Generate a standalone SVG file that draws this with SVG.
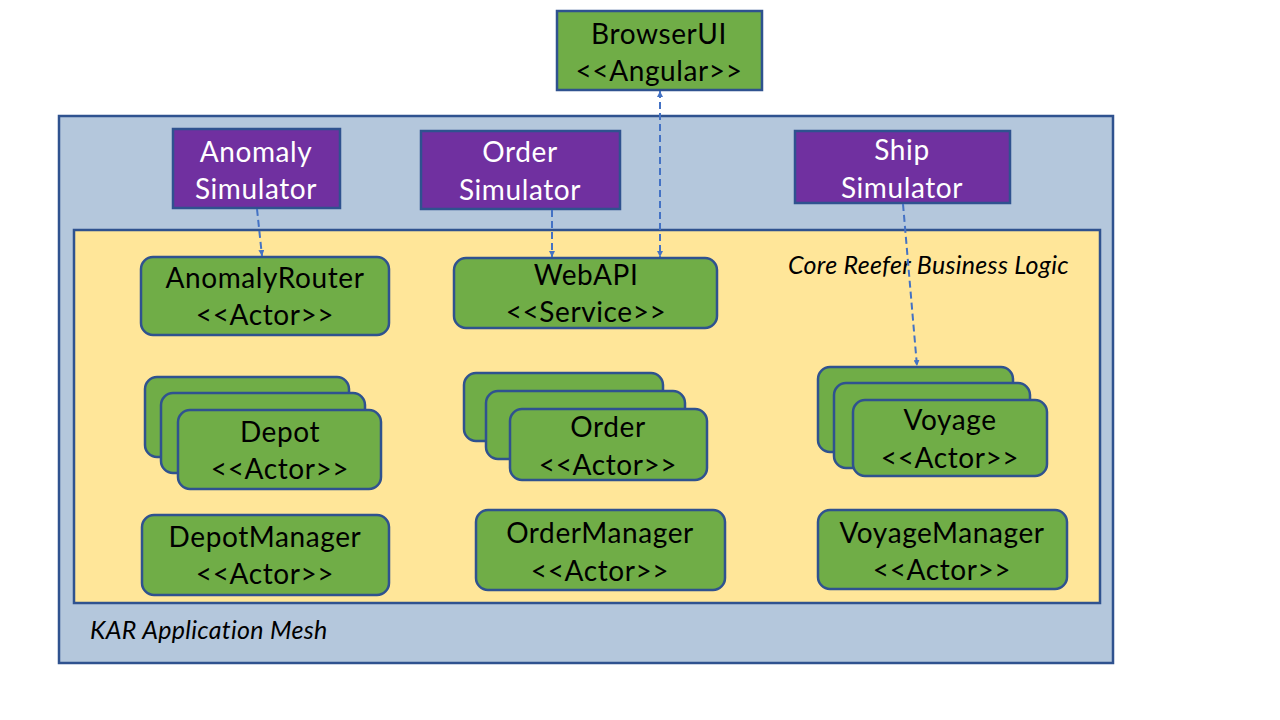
<svg xmlns="http://www.w3.org/2000/svg" width="1280" height="720" viewBox="0 0 1280 720">
<style>
.t{font-family:Lato,"Noto Sans","Liberation Sans",sans-serif;font-size:28px;letter-spacing:0.6px;text-anchor:middle;fill:#000}
.w{fill:#fff}
.it{font-family:Lato,"Noto Sans","Liberation Sans",sans-serif;font-size:25px;letter-spacing:0.3px;font-style:italic;fill:#000}
.act{fill:#70AD47;stroke:#2F528F;stroke-width:2.5}
.sim{fill:#7030A0;stroke:#2F528F;stroke-width:2.5}
.c{stroke:#4472C4;stroke-width:2;fill:none;stroke-dasharray:7 4}
</style>
<defs>
<marker id="ah" viewBox="0 0 10 10" refX="10" refY="5" markerWidth="6" markerHeight="6" orient="auto-start-reverse" markerUnits="userSpaceOnUse">
<path d="M0,0 L10,5 L0,10 z" fill="#4472C4"/>
</marker>
</defs>
<rect width="1280" height="720" fill="#fff"/>
<g id="mesh">
<rect x="59" y="116" width="1054" height="547" fill="#B4C7DC" stroke="#2F528F" stroke-width="2.5"/>
<text class="it" x="90" y="639">KAR Application Mesh</text>
</g>
<g id="core">
<rect x="74" y="230" width="1026" height="373" fill="#FFE699" stroke="#2F528F" stroke-width="2.5"/>
<text class="it" x="788" y="274">Core Reefer Business Logic</text>
</g>
<g id="browserui">
<rect class="act" x="557" y="11" width="205" height="79"/>
<text class="t" x="659" y="44">BrowserUI</text>
<text class="t" x="659" y="81">&lt;&lt;Angular&gt;&gt;</text>
</g>
<g id="anomalysim">
<rect class="sim" x="173" y="129" width="167" height="79"/>
<text class="t w" x="256" y="162">Anomaly</text>
<text class="t w" x="256" y="199">Simulator</text>
</g>
<g id="ordersim">
<rect class="sim" x="421" y="131" width="199" height="78"/>
<text class="t w" x="520" y="162">Order</text>
<text class="t w" x="520" y="200">Simulator</text>
</g>
<g id="shipsim">
<rect class="sim" x="795" y="131" width="215" height="72"/>
<text class="t w" x="902" y="160">Ship</text>
<text class="t w" x="902" y="198">Simulator</text>
</g>
<g id="anomalyrouter">
<rect class="act" x="141" y="257" width="248" height="78" rx="12"/>
<text class="t" x="265" y="288">AnomalyRouter</text>
<text class="t" x="265" y="325">&lt;&lt;Actor&gt;&gt;</text>
</g>
<g id="webapi">
<rect class="act" x="454" y="258" width="263" height="70" rx="12"/>
<text class="t" x="586" y="285">WebAPI</text>
<text class="t" x="586" y="322">&lt;&lt;Service&gt;&gt;</text>
</g>
<g id="depot">
<rect class="act" x="145" y="377" width="204" height="80" rx="12"/>
<rect class="act" x="161" y="393" width="204" height="80" rx="12"/>
<rect class="act" x="178" y="410" width="203" height="79" rx="12"/>
<text class="t" x="280" y="442">Depot</text>
<text class="t" x="280" y="479">&lt;&lt;Actor&gt;&gt;</text>
</g>
<g id="depotmanager">
<rect class="act" x="142" y="515" width="247" height="80" rx="12"/>
<text class="t" x="265" y="547">DepotManager</text>
<text class="t" x="265" y="584">&lt;&lt;Actor&gt;&gt;</text>
</g>
<g id="order">
<rect class="act" x="464" y="373" width="199" height="68" rx="12"/>
<rect class="act" x="486" y="391" width="199" height="68" rx="12"/>
<rect class="act" x="510" y="409" width="197" height="71" rx="12"/>
<text class="t" x="608" y="437">Order</text>
<text class="t" x="608" y="475">&lt;&lt;Actor&gt;&gt;</text>
</g>
<g id="ordermanager">
<rect class="act" x="476" y="510" width="249" height="80" rx="12"/>
<text class="t" x="600" y="543">OrderManager</text>
<text class="t" x="600" y="581">&lt;&lt;Actor&gt;&gt;</text>
</g>
<g id="voyage">
<rect class="act" x="818" y="367" width="195" height="85" rx="12"/>
<rect class="act" x="834" y="383" width="196" height="85" rx="12"/>
<rect class="act" x="853" y="400" width="194" height="76" rx="12"/>
<text class="t" x="950" y="430">Voyage</text>
<text class="t" x="950" y="468">&lt;&lt;Actor&gt;&gt;</text>
</g>
<g id="voyagemanager">
<rect class="act" x="818" y="510" width="249" height="79" rx="12"/>
<text class="t" x="942" y="543">VoyageManager</text>
<text class="t" x="942" y="580">&lt;&lt;Actor&gt;&gt;</text>
</g>
<g id="connectors">
<path class="c" d="M257,209 L262,256" marker-end="url(#ah)"/>
<path class="c" d="M552,210 L552,257" marker-end="url(#ah)"/>
<path class="c" d="M660,91 L660,257" marker-start="url(#ah)" marker-end="url(#ah)"/>
<path class="c" d="M903,204 L917,366" marker-end="url(#ah)"/>
</g>
</svg>
